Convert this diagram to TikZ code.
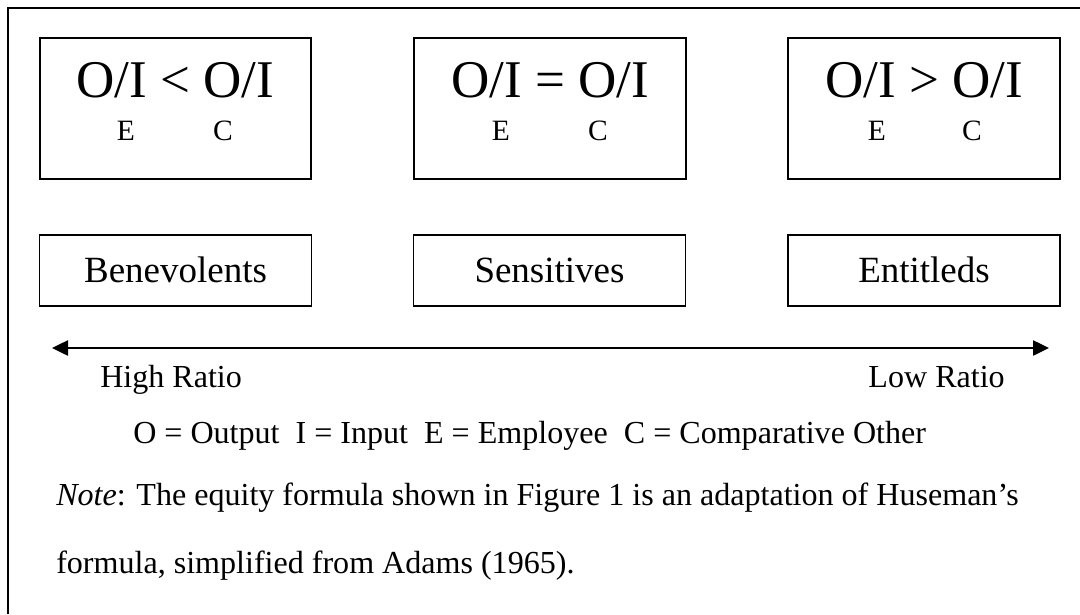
\documentclass[tikz,border=0pt]{standalone}
\usepackage{fontspec}
\setmainfont{Liberation Serif}
\usepackage{tikz}
\usetikzlibrary{arrows.meta}

\begin{document}
\begin{tikzpicture}[x=0.025cm, y=-0.025cm,
    ratiobox/.style={draw, line width=1.3pt, minimum width=6.78cm, minimum height=3.53cm, inner sep=0pt},
    groupbox/.style={draw, line width=1.3pt, minimum width=6.8cm, minimum height=1.78cm, inner sep=0pt,
      text height=20pt, text depth=3.6pt, font=\fontsize{26.3}{30}\selectfont},
    bigtext/.style={anchor=base, inner sep=0pt, font=\fontsize{37.7}{42}\selectfont},
    subtext/.style={anchor=base, inner sep=0pt, font=\fontsize{21}{24}\selectfont},
    bodytext/.style={anchor=base west, inner sep=0pt, font=\fontsize{22.8}{27}\selectfont}
]
  \useasboundingbox (0,0) rectangle (1080,614);

  % Rahmen (links und oben)
  \draw[line width=1.6pt] (8,614) -- (8,8) -- (1080,8);

  % Verhaeltnisse
  \node[ratiobox] (less) at (175.5,108.5) {};
  \node[ratiobox] (equal) at (550,108.5) {};
  \node[ratiobox] (greater) at (924,108.5) {};

  \node[bigtext] (lessF) at (175.5,97) {O/I < O/I};
  \node[subtext] at (126,140) {E};
  \node[subtext] at (223,140) {C};

  \node[bigtext] (equalF) at (550,97) {O/I = O/I};
  \node[subtext] at (501,140) {E};
  \node[subtext] at (598,140) {C};

  \node[bigtext] (greaterF) at (924,97) {O/I > O/I};
  \node[subtext] at (877,140) {E};
  \node[subtext] at (972,140) {C};

  % Gruppen
  \node[groupbox] (bene) at (175.5,270.5) {Benevolents};
  \node[groupbox] (sens) at (549.5,270.5) {Sensitives};
  \node[groupbox] (enti) at (924,270.5) {Entitleds};

  % Skala
  \coordinate (high) at (52,348);
  \coordinate (low) at (1049,348);
  \draw[line width=1.3pt, {Triangle[length=0.4cm, width=0.38cm]}-{Triangle[length=0.4cm, width=0.38cm]}] (high) -- (low);
  \node[bodytext] (highL) at (100,387) {High Ratio};
  \node[bodytext, anchor=base east] (lowL) at (1005,387) {Low Ratio};

  % Legende
  \node[bodytext] (legend) at (133,443) {O = Output\ \ I = Input\ \ E = Employee\ \ C = Comparative Other};

  % Anmerkung
  \node[bodytext] (note1) at (56,505) {\textit{Note}: The equity formula shown in Figure 1 is an adaptation of Huseman’s};
  \node[bodytext] (note2) at (56,573) {formula, simplified from Adams (1965).};

\end{tikzpicture}
\end{document}
